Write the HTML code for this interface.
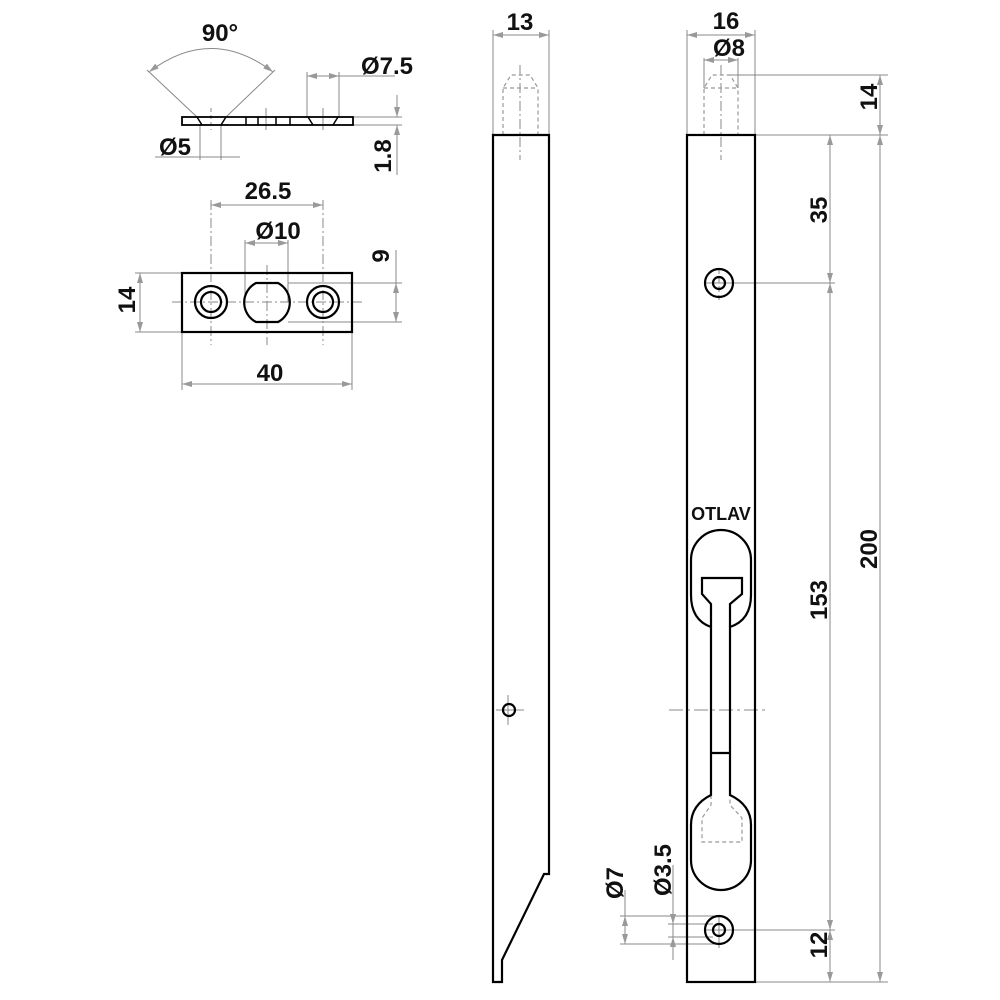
<!DOCTYPE html>
<html><head><meta charset="utf-8"><style>html,body{margin:0;padding:0;background:#fff}svg{display:block}</style></head>
<body>
<svg width="1000" height="1000" viewBox="0 0 1000 1000" xmlns="http://www.w3.org/2000/svg" font-family="'Liberation Sans',sans-serif" font-weight="bold" font-size="24">
<defs>
<marker id="a" viewBox="0 0 10 6" refX="10" refY="3" markerWidth="10" markerHeight="6" orient="auto-start-reverse" markerUnits="userSpaceOnUse"><path d="M0,0 L10,3 L0,6 z" fill="#999"/></marker>
</defs>
<g fill="none" stroke="#888" stroke-width="1">
<line x1="197" y1="117" x2="147" y2="70"/><line x1="226" y1="117" x2="275" y2="70"/>
<path d="M149,72 Q211,25 273,72" marker-start="url(#a)" marker-end="url(#a)"/>
<line x1="307" y1="72" x2="307" y2="117"/><line x1="339" y1="72" x2="339" y2="117"/>
<line x1="307" y1="76" x2="339" y2="76" marker-start="url(#a)" marker-end="url(#a)"/><line x1="339" y1="76" x2="395" y2="76"/>
<line x1="200" y1="125" x2="200" y2="160"/><line x1="221" y1="125" x2="221" y2="160"/>
<line x1="155" y1="157" x2="240" y2="157"/>
<line x1="353" y1="117" x2="402" y2="117"/><line x1="353" y1="125" x2="402" y2="125"/>
<line x1="397" y1="95" x2="397" y2="117" marker-end="url(#a)"/><line x1="397" y1="175" x2="397" y2="125" marker-end="url(#a)"/>
<line x1="211" y1="108" x2="211" y2="130" stroke-dasharray="4 3"/><line x1="266" y1="108" x2="266" y2="130"/><line x1="323" y1="108" x2="323" y2="130"/>
<line x1="211" y1="200" x2="211" y2="345" stroke-dasharray="10 3 2 3"/><line x1="323" y1="200" x2="323" y2="345" stroke-dasharray="10 3 2 3"/>
<line x1="211" y1="205" x2="323" y2="205" marker-start="url(#a)" marker-end="url(#a)"/>
<line x1="245" y1="240" x2="245" y2="302"/><line x1="288" y1="240" x2="288" y2="302"/>
<line x1="245" y1="243" x2="288" y2="243" marker-start="url(#a)" marker-end="url(#a)"/>
<line x1="267" y1="265" x2="267" y2="345" stroke-dasharray="10 3 2 3"/>
<line x1="172" y1="302" x2="362" y2="302" stroke-dasharray="10 3 2 3"/>
<line x1="288" y1="283" x2="402" y2="283"/><line x1="288" y1="322" x2="402" y2="322"/>
<line x1="396" y1="250" x2="396" y2="322"/><line x1="396" y1="283" x2="396" y2="322" marker-start="url(#a)" marker-end="url(#a)"/>
<line x1="135" y1="273" x2="182" y2="273"/><line x1="135" y1="332" x2="182" y2="332"/>
<line x1="140" y1="273" x2="140" y2="332" marker-start="url(#a)" marker-end="url(#a)"/>
<line x1="182" y1="332" x2="182" y2="390"/><line x1="352" y1="332" x2="352" y2="390"/>
<line x1="182" y1="384" x2="352" y2="384" marker-start="url(#a)" marker-end="url(#a)"/>
<line x1="493" y1="30" x2="493" y2="135"/><line x1="549" y1="30" x2="549" y2="135"/>
<line x1="493" y1="35" x2="549" y2="35" marker-start="url(#a)" marker-end="url(#a)"/>
<line x1="520" y1="65" x2="520" y2="160" stroke-dasharray="10 3 2 3"/>
<line x1="496" y1="710" x2="524" y2="710"/><line x1="508" y1="695" x2="508" y2="725"/>
<line x1="687" y1="30" x2="687" y2="135"/><line x1="755" y1="30" x2="755" y2="135"/>
<line x1="687" y1="35" x2="755" y2="35" marker-start="url(#a)" marker-end="url(#a)"/>
<line x1="704" y1="58" x2="704" y2="88"/><line x1="738" y1="58" x2="738" y2="88"/>
<line x1="704" y1="60" x2="738" y2="60" marker-start="url(#a)" marker-end="url(#a)"/>
<line x1="721" y1="65" x2="721" y2="160" stroke-dasharray="10 3 2 3"/>
<line x1="730" y1="75" x2="888" y2="75"/><line x1="755" y1="135" x2="888" y2="135"/><line x1="755" y1="982" x2="888" y2="982"/>
<line x1="880" y1="75" x2="880" y2="135" marker-start="url(#a)" marker-end="url(#a)"/>
<line x1="880" y1="135" x2="880" y2="982" marker-start="url(#a)" marker-end="url(#a)"/>
<line x1="830" y1="135" x2="830" y2="283" marker-start="url(#a)" marker-end="url(#a)"/>
<line x1="830" y1="283" x2="830" y2="930" marker-start="url(#a)" marker-end="url(#a)"/>
<line x1="830" y1="930" x2="830" y2="982" marker-start="url(#a)" marker-end="url(#a)"/>
<line x1="733" y1="283" x2="835" y2="283"/><line x1="733" y1="930" x2="835" y2="930"/>
<line x1="705" y1="283" x2="737" y2="283"/><line x1="719" y1="268" x2="719" y2="300" stroke-dasharray="6 3"/>
<line x1="705" y1="930" x2="737" y2="930"/><line x1="719" y1="915" x2="719" y2="948"/>
<line x1="669" y1="710" x2="767" y2="710" stroke-dasharray="14 4 3 4"/>
<line x1="620" y1="916" x2="719" y2="916"/><line x1="620" y1="944" x2="719" y2="944"/>
<line x1="668" y1="924" x2="713" y2="924"/><line x1="668" y1="937" x2="713" y2="937"/>
<line x1="625" y1="890" x2="625" y2="944"/><line x1="625" y1="916" x2="625" y2="944" marker-start="url(#a)" marker-end="url(#a)"/>
<line x1="673" y1="865" x2="673" y2="960"/><line x1="673" y1="910" x2="673" y2="924" marker-end="url(#a)"/><line x1="673" y1="951" x2="673" y2="937" marker-end="url(#a)"/>
</g>
<g fill="none" stroke="#999" stroke-width="1.2" stroke-dasharray="4 3">
<path d="M503,135 V88 L511,75 H530 L538,88 V135 M503,88 H538"/>
<path d="M704,135 V88 L712,75 H730 L738,88 V135 M704,88 H738"/>
<path d="M711,795 V805 L702,818 V842 H742 V818 L730,805 V795"/>
</g>
<g fill="none" stroke="#000" stroke-width="2.2">
<rect x="182" y="117" width="171" height="8" stroke-width="1.8"/>
<path d="M197,117 L202,125 M226,117 L221,125 M308,117 L313,125 M338,117 L333,125 M246,117 V125 M258,117 V125 M276,117 V125 M290,117 V125" stroke-width="1.5"/>
<rect x="182" y="273" width="170" height="59"/>
<circle cx="211" cy="302" r="16"/><circle cx="211" cy="302" r="10"/>
<circle cx="323" cy="302" r="16"/><circle cx="323" cy="302" r="10"/>
<path d="M256,283 H278 A22,22 0 0 1 278,322 H256 A22,22 0 0 1 256,283 Z"/>
<path d="M493,135 H549 V874 H544 L502,960 V982 H493 Z"/>
<circle cx="509" cy="710" r="6"/>
<rect x="687" y="135" width="68" height="847"/>
<circle cx="719" cy="283" r="14"/><circle cx="719" cy="283" r="6"/>
<circle cx="719" cy="930" r="14"/><circle cx="719" cy="930" r="6"/>
<path d="M711,753 V627 Q691,620 691,595 V560 A30,30 0 0 1 751,560 V595 Q751,620 730,627 V795 Q751,805 751,825 V860 A30,30 0 0 1 691,860 V825 Q691,805 711,795 V753 H730"/>
<path d="M711,627 V604 L702,594 V578 H742 V594 L730,604 V627"/>
</g>
<g fill="#111" text-anchor="middle">
<text x="220" y="41">90°</text>
<text x="387" y="74">Ø7.5</text>
<text x="175" y="155">Ø5</text>
<text transform="translate(391,156) rotate(-90)">1.8</text>
<text x="268" y="199">26.5</text>
<text x="278" y="239">Ø10</text>
<text transform="translate(389,256) rotate(-90)">9</text>
<text transform="translate(135,300) rotate(-90)">14</text>
<text x="270" y="381">40</text>
<text x="520" y="30">13</text>
<text x="726" y="29">16</text>
<text x="729" y="56">Ø8</text>
<text transform="translate(877,97) rotate(-90)">14</text>
<text transform="translate(877,549) rotate(-90)">200</text>
<text transform="translate(827,210) rotate(-90)">35</text>
<text transform="translate(827,600) rotate(-90)">153</text>
<text transform="translate(827,945) rotate(-90)">12</text>
<text transform="translate(623,883) rotate(-90)">Ø7</text>
<text transform="translate(671,870) rotate(-90)">Ø3.5</text>
<text x="721" y="520" font-size="18">OTLAV</text>
</g>
</svg>
</body></html>
